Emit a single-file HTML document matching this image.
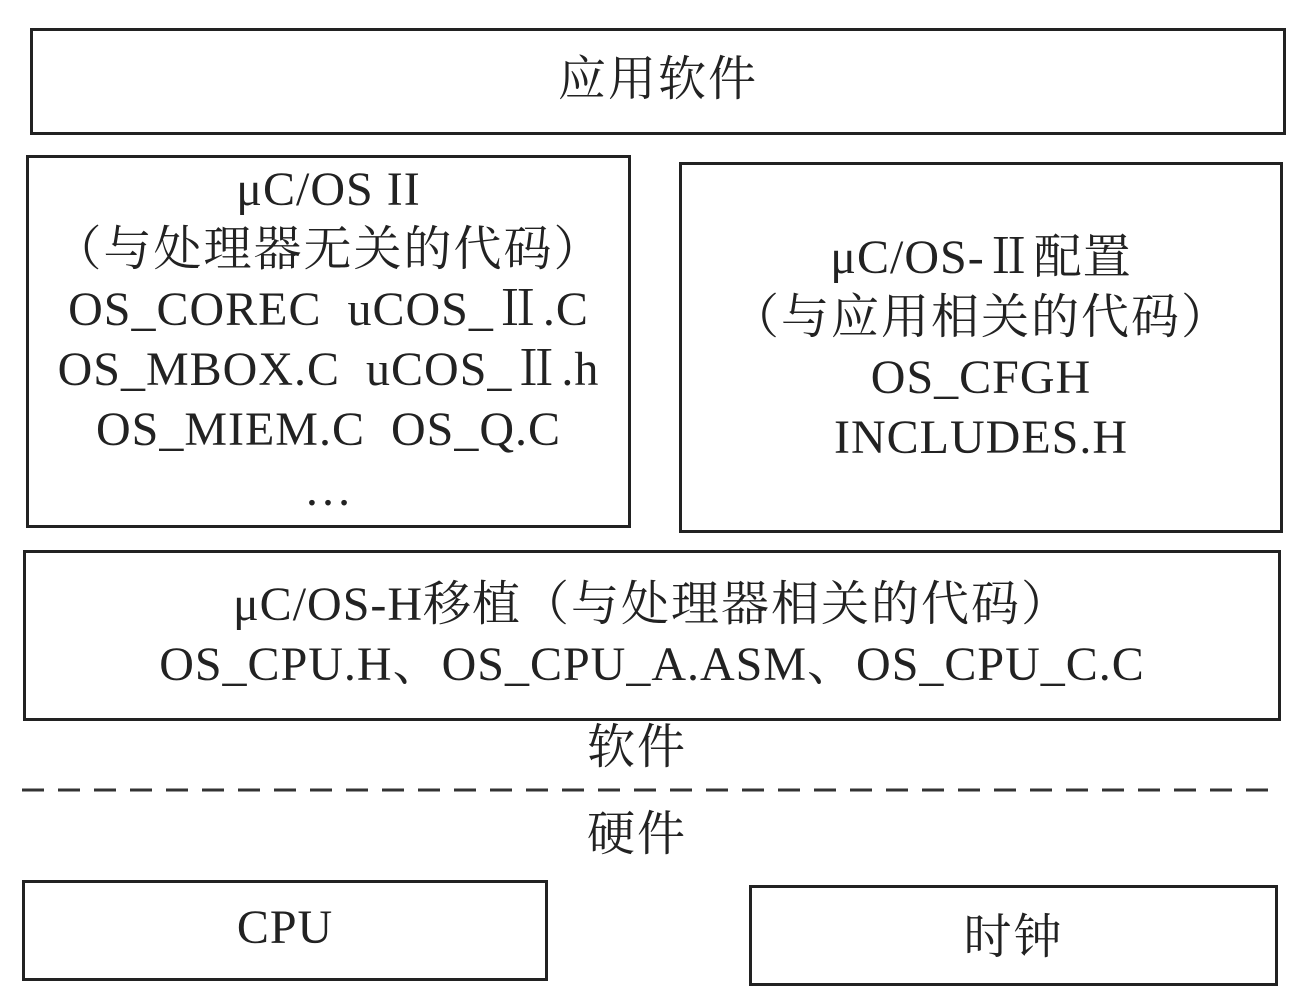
<!DOCTYPE html>
<html><head><meta charset="utf-8"><style>
html,body{margin:0;padding:0;background:#fff;}
body{width:1306px;height:1002px;position:relative;overflow:hidden;font-family:"Liberation Serif","Noto Serif CJK SC",serif;color:#222;}
.b{position:absolute;border:3px solid #222;box-sizing:border-box;}
.t{position:absolute;left:0;right:0;text-align:center;font-size:48px;line-height:60px;white-space:nowrap;letter-spacing:1px;}
.c{letter-spacing:2px;}
</style></head><body>
<div class="b" style="left:30px;top:28px;width:1256px;height:107px;"></div>
<div class="t c" style="left:30px;width:1256px;top:50px;">应用软件</div>

<div class="b" style="left:26px;top:155px;width:605px;height:373px;"></div>
<div class="t" style="left:26px;width:605px;top:160px;">μC/OS II<br><span class="c">（与处理器无关的代码）</span><br>OS_COREC&nbsp; uCOS_Ⅱ.C<br>OS_MBOX.C&nbsp; uCOS_Ⅱ.h<br>OS_MIEM.C&nbsp; OS_Q.C<br>…</div>

<div class="b" style="left:679px;top:162px;width:604px;height:371px;"></div>
<div class="t" style="left:679px;width:604px;top:228px;">μC/OS-Ⅱ配置<br><span class="c">（与应用相关的代码）</span><br>OS_CFGH<br>INCLUDES.H</div>

<div class="b" style="left:23px;top:550px;width:1258px;height:171px;"></div>
<div class="t" style="left:23px;width:1258px;top:575px;">μC/OS-H移植<span class="c">（与处理器相关的代码）</span><br>OS_CPU.H、OS_CPU_A.ASM、OS_CPU_C.C</div>

<div class="t c" style="top:718px;left:0;width:1274px;">软件</div>
<svg style="position:absolute;left:0;top:780px" width="1306" height="20"><line x1="22" y1="10" x2="1280" y2="10" stroke="#333" stroke-width="3" stroke-dasharray="22,14"/></svg>
<div class="t c" style="top:805px;left:0;width:1274px;">硬件</div>

<div class="b" style="left:22px;top:880px;width:526px;height:101px;"></div>
<div class="t" style="left:22px;width:526px;top:898px;">CPU</div>
<div class="b" style="left:749px;top:885px;width:529px;height:101px;"></div>
<div class="t c" style="left:749px;width:529px;top:908px;">时钟</div>
</body></html>
